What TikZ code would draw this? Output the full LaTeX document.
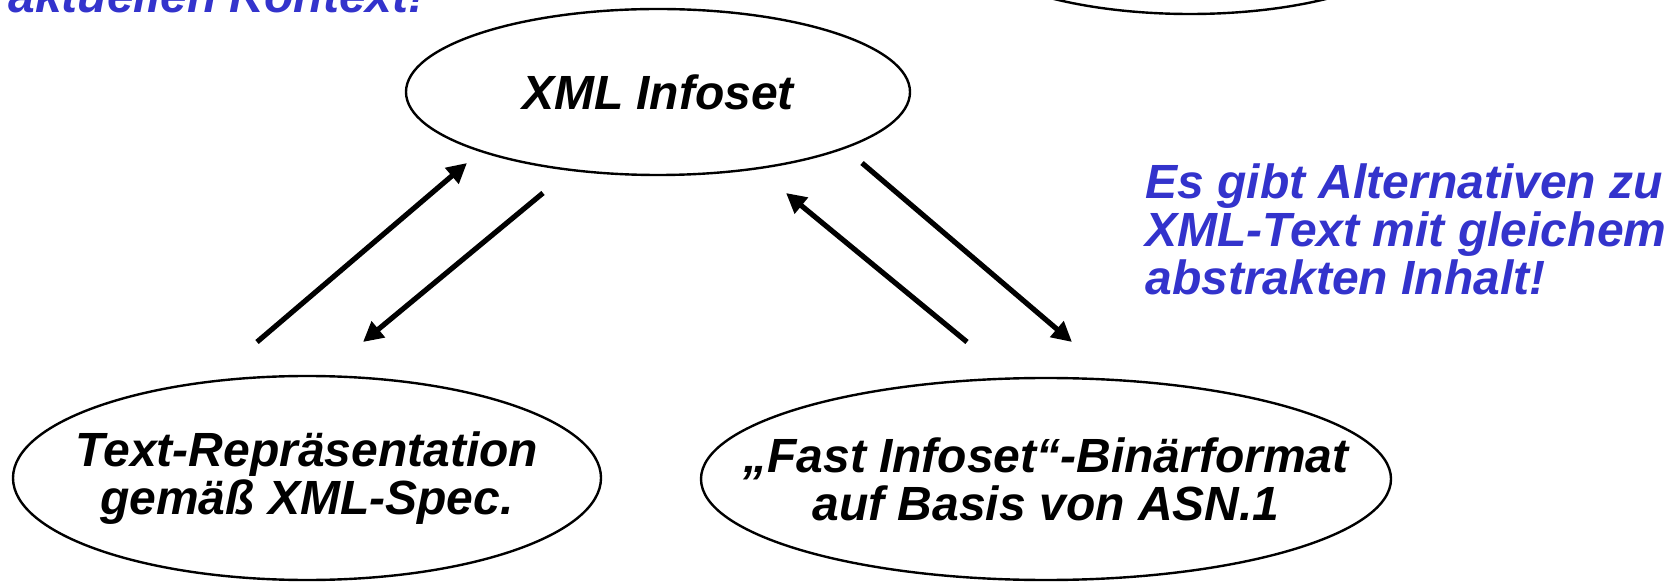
\documentclass[tikz,border=0pt]{standalone}
\usepackage{fontspec}
\setmainfont{Liberation Sans}
\usetikzlibrary{shapes}
\usetikzlibrary{arrows.meta}
\definecolor{noteblue}{RGB}{51,51,204}

\begin{document}
\begin{tikzpicture}[x = 0.5pt, y = -0.5pt]
	\tikzstyle{ovalStyle}=[shape = ellipse, draw, line width = 1.2pt, inner sep = 0pt]
	\tikzstyle{labelStyle}=[font = \fontsize{24}{24}\selectfont\bfseries\itshape, align = center, inner sep = 0pt]
	\tikzstyle{noteStyle}=[font = \fontsize{24}{24}\selectfont\bfseries\itshape, text = noteblue, align = left, inner sep = 0pt]
	\tikzstyle{arrowStyle}=[line width = 2.6pt, -{Triangle[length = 10pt, width = 10pt]}]
	\useasboundingbox (0,0) rectangle (1675,582);
	\clip (0,0) rectangle (1675,582);
	\node[ovalStyle, minimum width = 237pt, minimum height = 83pt] (upper) at (1190,-69) {};
	\node[ovalStyle, minimum width = 252pt, minimum height = 83pt] (infoset) at (658,92) {};
	\node[ovalStyle, minimum width = 294pt, minimum height = 102pt] (textrep) at (307,478) {};
	\node[ovalStyle, minimum width = 345pt, minimum height = 101pt] (binfmt) at (1046,479) {};
	\node[labelStyle] (infosetText) at (infoset) {XML Infoset};
	\node[labelStyle] (textrepText) at (textrep) {Text-Repräsentation\\gemäß XML-Spec.};
	\node[labelStyle] (binfmtText) at (binfmt) {„Fast Infoset“-Binärformat\\auf Basis von ASN.1};
	\node[noteStyle, anchor = base west] (contextNote) at (8,13) {aktuellen Kontext!};
	\node[noteStyle, anchor = north west] (altNote) at (1145,163) {Es gibt Alternativen zu\\XML-Text mit gleichem\\abstrakten Inhalt!};
	\coordinate (a1) at (257,342);
	\coordinate (a2) at (467,163);
	\coordinate (b1) at (543,193);
	\coordinate (b2) at (363,342);
	\coordinate (c1) at (967,342);
	\coordinate (c2) at (786,193);
	\coordinate (d1) at (862,163);
	\coordinate (d2) at (1072,342);
	\draw[arrowStyle] (a1) -- (a2);
	\draw[arrowStyle] (b1) -- (b2);
	\draw[arrowStyle] (c1) -- (c2);
	\draw[arrowStyle] (d1) -- (d2);
\end{tikzpicture}
\end{document}
